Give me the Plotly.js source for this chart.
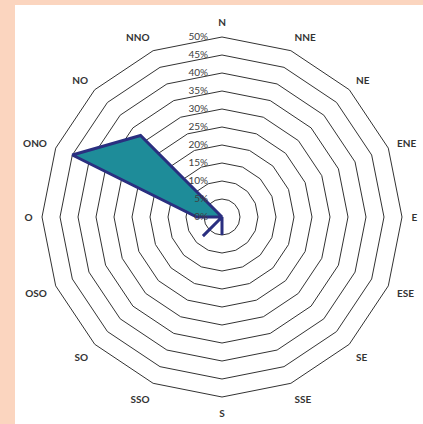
<!DOCTYPE html>
<html>
<head>
<meta charset="utf-8">
<script src="https://cdn.plot.ly/plotly-3.0.1.min.js"></script>
<style>
  html, body { margin:0; padding:0; background:#FBD5BF; width:423px; height:424px; overflow:hidden; }
  #chart { position:absolute; left:15px; top:5px; width:408px; height:419px; background:#fff; }
</style>
</head>
<body>
<div id="chart"></div>
<script>
const directions = ["N","NNE","NE","ENE","E","ESE","SE","SSE","S","SSO","SO","OSO","O","ONO","NO","NNO"];
const frequency = [0,0,0,0,0,0,0,0,5,0,7.5,0,7,45,32,0];
const radialTicks = [0,5,10,15,20,25,30,35,40,45,50];
const radialTickLabels = ["0%","5%","10%","15%","20%","25%","30%","35%","40%","45%","50%"];

const trace = {
  type: "scatterpolar",
  r: frequency,
  theta: directions,
  mode: "lines",
  fill: "toself",
  fillcolor: "#1E8C99",
  line: { color: "#2A2F80", width: 3 },
  hoverinfo: "skip"
};

const layout = {
  width: 408, height: 419,
  margin: { l: 27, r: 21, t: 32, b: 27 },
  paper_bgcolor: "#ffffff",
  showlegend: false,
  polar: {
    bgcolor: "#ffffff",
    gridshape: "linear",
    domain: { x: [0,1], y: [0,1] },
    radialaxis: {
      range: [0, 50],
      tickvals: radialTicks,
      ticktext: radialTickLabels,
      angle: 90,
      tickangle: 90,
      side: "counterclockwise",
      layer: "above traces",
      showline: false,
      ticks: "outside",
      ticklen: 10,
      tickcolor: "rgba(0,0,0,0)",
      gridcolor: "#333333",
      gridwidth: 1,
      tickfont: { family: "Lato, 'Open Sans', sans-serif", size: 10, color: "#404040" }
    },
    angularaxis: {
      direction: "clockwise",
      rotation: 90,
      showgrid: false,
      showline: true,
      linecolor: "#333333",
      linewidth: 1,
      ticks: "outside",
      ticklen: 7,
      tickcolor: "rgba(0,0,0,0)",
      tickfont: { family: "Lato, 'Open Sans', sans-serif", size: 10, color: "#333333", weight: "bold" }
    }
  }
};

Plotly.newPlot("chart", [trace], layout, { staticPlot: true, displayModeBar: false });
</script>
</body>
</html>
